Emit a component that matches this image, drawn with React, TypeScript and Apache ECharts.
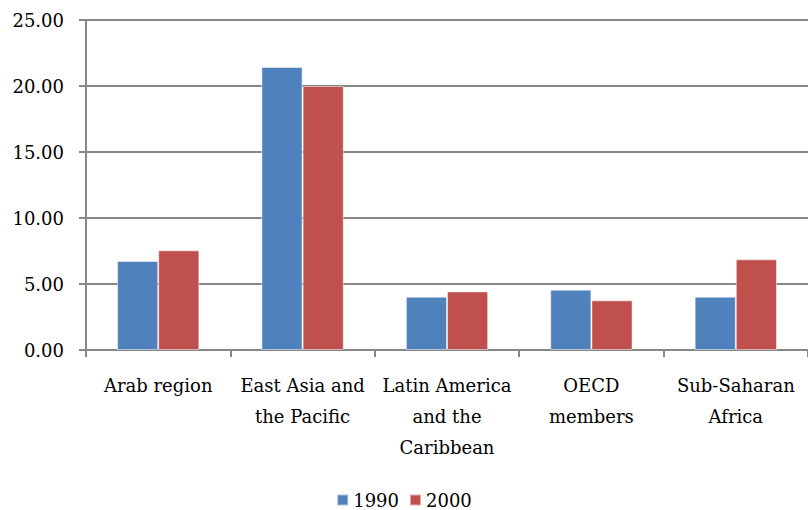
import React, { useEffect, useRef } from "react";
import * as echarts from "echarts";

const categories = [
  "Arab region",
  "East Asia and\nthe Pacific",
  "Latin America\nand the\nCaribbean",
  "OECD\nmembers",
  "Sub-Saharan\nAfrica",
];
const values1990 = [6.74, 21.44, 4.04, 4.57, 4.04];
const values2000 = [7.55, 20.0, 4.44, 3.76, 6.87];
const seriesNames = ["1990", "2000"];
const yMin = 0;
const yMax = 25;
const yInterval = 5;

export default function App() {
  const ref = useRef<HTMLDivElement>(null);
  useEffect(() => {
    const chart = echarts.init(ref.current!, null, { renderer: "svg" });
    const font = "DejaVu Serif";
    chart.setOption({
      animation: false,
      backgroundColor: "#ffffff",
      textStyle: { fontFamily: font },
      grid: { left: 86, top: 20, width: 728, height: 330, containLabel: false },
      legend: {
        bottom: -4,
        left: "center",
        itemWidth: 11,
        itemHeight: 11,
        itemGap: 10,
        icon: "rect",
        textStyle: { fontFamily: font, fontSize: 18, color: "#000" },
        data: seriesNames,
      },
      xAxis: {
        type: "category",
        data: categories,
        axisLine: { lineStyle: { color: "#878787", width: 2 } },
        axisTick: { show: true, length: 7, lineStyle: { color: "#878787", width: 2 } },
        axisLabel: {
          interval: 0,
          fontFamily: font,
          fontSize: 18,
          color: "#000",
          lineHeight: 31,
          margin: 20,
        },
      },
      yAxis: {
        type: "value",
        min: yMin,
        max: yMax,
        interval: yInterval,
        axisLine: { show: true, lineStyle: { color: "#878787", width: 2 } },
        axisTick: { show: true, length: 7, lineStyle: { color: "#878787", width: 2 } },
        splitLine: { lineStyle: { color: "#878787", width: 2 } },
        axisLabel: {
          fontFamily: font,
          fontSize: 18,
          color: "#000",
          margin: 22,
          formatter: (v: number) => v.toFixed(2),
        },
      },
      series: [
        {
          name: seriesNames[0],
          type: "bar",
          data: values1990,
          barGap: "0%",
          barCategoryGap: "43%",
          itemStyle: { color: "#4F81BD", borderColor: "rgba(255,255,255,0.5)", borderWidth: 1 },
        },
        {
          name: seriesNames[1],
          type: "bar",
          data: values2000,
          barGap: "0%",
          barCategoryGap: "43%",
          itemStyle: { color: "#C0504D", borderColor: "rgba(255,255,255,0.5)", borderWidth: 1 },
        },
      ],
    });
    return () => chart.dispose();
  }, []);
  return (
    <div
      ref={ref}
      style={{ position: "fixed", left: 0, top: 0, width: 808, height: 510, background: "#fff" }}
    />
  );
}
